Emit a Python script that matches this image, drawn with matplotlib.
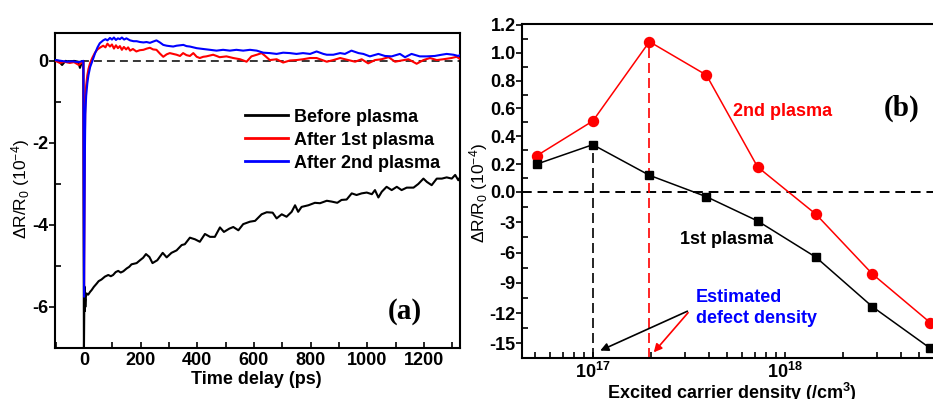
import numpy as np
import matplotlib
matplotlib.use("Agg")
import matplotlib.pyplot as plt
from matplotlib.ticker import FixedLocator, MultipleLocator, LogLocator, NullFormatter

plt.rcParams['font.family'] = ['Liberation Sans', 'DejaVu Sans']
plt.rcParams['font.weight'] = 'bold'
plt.rcParams['mathtext.default'] = 'regular'

# ---------------- Panel (a) data: time traces ----------------
t_before = [-100, -90, -77, -65, -50, -35, -20, -14, -8, -2, 0, 1, 2, 3, 4, 5, 7, 9.4, 15, 22, 27, 35, 45, 52,
            62, 74, 86, 95, 103, 112, 121, 130, 139, 151, 160, 168, 186, 198, 209, 219, 231, 242, 259,
            278, 292, 309, 327, 345, 356, 374, 392, 409, 427, 445, 462, 480, 494, 513, 527, 545, 562,
            586, 604, 627, 645, 666, 680, 698, 715, 733, 745, 756, 768, 792, 815, 833, 857, 874, 894,
            909, 927, 945, 962, 980, 998, 1016, 1027, 1039, 1051, 1068, 1086, 1104, 1121, 1139, 1163,
            1180, 1198, 1210, 1227, 1245, 1263, 1280, 1298, 1310, 1321, 1326]
v_before = [0.02, 0.0, -0.1, 0.0, -0.02, 0.0, -0.02, -0.17, -0.05, 0.0, -7.2, -6.3, -5.5, -6.1, -5.8, -6.0,
            -5.75, -5.67, -5.7, -5.63, -5.59, -5.51, -5.43, -5.37, -5.33, -5.26, -5.22, -5.25, -5.22,
            -5.15, -5.12, -5.16, -5.13, -5.06, -5.02, -4.96, -4.93, -4.86, -4.80, -4.71, -4.78, -4.93,
            -4.86, -4.68, -4.79, -4.68, -4.62, -4.49, -4.47, -4.31, -4.35, -4.41, -4.22, -4.29, -4.29,
            -4.06, -4.17, -4.09, -4.05, -4.13, -3.98, -3.92, -3.90, -3.74, -3.69, -3.70, -3.84, -3.74,
            -3.80, -3.68, -3.52, -3.68, -3.56, -3.52, -3.46, -3.47, -3.41, -3.43, -3.46, -3.39, -3.38,
            -3.23, -3.27, -3.23, -3.21, -3.25, -3.15, -3.33, -3.19, -3.07, -3.15, -3.07, -3.15, -3.09,
            -3.09, -3.00, -2.87, -2.95, -3.03, -2.87, -2.87, -2.84, -2.87, -2.78, -2.91, -2.85]

t_first = [-100, -85, -70, -50, -35, -18, -8, -2, 0.5, 2, 3.5, 5, 8, 12, 16, 22, 30, 39, 48, 56, 68, 76,
           83, 92, 99, 106, 113, 120, 127, 134, 141, 149, 156, 163, 173, 185, 197, 210, 222, 233, 244,
           256, 268, 280, 292, 303, 315, 327, 339, 350, 362, 374, 386, 398, 409, 421, 432, 456, 468,
           479, 503, 527, 551, 574, 591, 610, 627, 638, 656, 680, 703, 727, 750, 773, 798, 821, 833,
           857, 880, 904, 927, 957, 980, 1003, 1027, 1050, 1075, 1098, 1121, 1145, 1174, 1198, 1221,
           1245, 1268, 1297, 1315, 1326]
v_first = [0.0, -0.05, -0.02, -0.05, -0.03, -0.1, -0.04, -0.02, -5.5, -3.5, -1.8, -1.0, -0.6, -0.35, -0.2,
           -0.05, 0.08, 0.2, 0.28, 0.32, 0.37, 0.33, 0.42, 0.35, 0.40, 0.30, 0.38, 0.31, 0.36, 0.27,
           0.34, 0.28, 0.33, 0.25, 0.29, 0.23, 0.26, 0.27, 0.30, 0.32, 0.28, 0.27, 0.18, 0.10, 0.16,
           0.19, 0.17, 0.15, 0.12, 0.19, 0.14, 0.12, 0.19, 0.10, 0.07, 0.10, 0.11, 0.15, 0.12, 0.09,
           0.11, 0.07, 0.04, -0.02, 0.11, 0.15, 0.19, 0.13, 0.02, 0.04, -0.04, 0.01, 0.02, 0.04, 0.07,
           0.07, 0.04, -0.02, 0.02, 0.07, 0.03, -0.02, 0.04, -0.06, 0.02, 0.04, 0.09, -0.02, 0.01,
           0.04, -0.07, 0.02, 0.07, 0.02, 0.04, 0.07, 0.10, 0.05]

t_second = [-100, -80, -60, -40, -20, -2, 0.5, 2, 3.5, 5, 8, 12, 16, 22, 30, 39, 48, 56, 68, 76, 83, 92,
            99, 106, 113, 120, 127, 134, 142, 150, 163, 175, 186, 198, 210, 221, 233, 244, 256, 268,
            280, 292, 303, 315, 327, 339, 351, 362, 374, 398, 421, 445, 468, 491, 515, 538, 562, 586,
            610, 633, 656, 680, 703, 727, 750, 773, 798, 821, 845, 857, 880, 904, 921, 944, 969, 986,
            1009, 1039, 1062, 1086, 1115, 1133, 1156, 1185, 1209, 1238, 1262, 1280, 1304, 1321, 1326]
v_second = [0.02, 0.0, -0.02, -0.01, -0.03, 0.0, -5.75, -4.0, -2.2, -1.3, -0.85, -0.55, -0.35, -0.15, 0.0,
            0.18, 0.33, 0.43, 0.50, 0.53, 0.50, 0.56, 0.52, 0.57, 0.51, 0.55, 0.53, 0.57, 0.52, 0.55,
            0.50, 0.48, 0.48, 0.46, 0.45, 0.46, 0.44, 0.47, 0.50, 0.45, 0.39, 0.37, 0.36, 0.35, 0.37,
            0.38, 0.39, 0.36, 0.35, 0.31, 0.29, 0.27, 0.25, 0.27, 0.25, 0.27, 0.25, 0.27, 0.25, 0.20,
            0.19, 0.17, 0.20, 0.19, 0.17, 0.19, 0.17, 0.23, 0.17, 0.15, 0.15, 0.19, 0.17, 0.25, 0.19,
            0.17, 0.11, 0.17, 0.12, 0.11, 0.17, 0.09, 0.17, 0.11, 0.11, 0.12, 0.15, 0.17, 0.15, 0.12, 0.14]

legend_labels = ["Before plasma", "After 1st plasma", "After 2nd plasma"]
a_xticks = [0, 200, 400, 600, 800, 1000, 1200]
a_yticks = [0, -2, -4, -6]

# ---------------- Panel (b) data: peak signal vs density ----------------
density = [5.1e16, 1.0e17, 1.97e17, 3.9e17, 7.2e17, 1.45e18, 2.85e18, 5.7e18]
first_plasma = [0.20, 0.34, 0.12, -0.47, -2.87, -6.47, -11.37, -15.49]
second_plasma = [0.26, 0.51, 1.08, 0.84, 0.18, -2.21, -8.13, -12.95]
b_yticks = [-15, -12, -9, -6, -3, 0.0, 0.2, 0.4, 0.6, 0.8, 1.0, 1.2]
b_yticklabels = ["-15", "-12", "-9", "-6", "-3", "0.0", "0.2", "0.4", "0.6", "0.8", "1.0", "1.2"]
b_yminor = [-13.5, -10.5, -7.5, -4.5, -1.5, 0.1, 0.3, 0.5, 0.7, 0.9, 1.1]

# ---------------- Figure ----------------
W, H = 933, 399
fig = plt.figure(figsize=(W / 100, H / 100), dpi=100)

axA = fig.add_axes([55 / W, 1 - 348 / H, 405 / W, 315 / H])
axB = fig.add_axes([522 / W, 1 - 358 / H, 423 / W, 334 / H])

FS = 13

# ---- Panel (a)
axA.axhline(0, color='black', lw=1.1, ls=(0, (5.2, 3.3)), zorder=1)
axA.plot(t_before, v_before, color='black', lw=1.5, label=legend_labels[0], zorder=3)
axA.plot(t_first, v_first, color='red', lw=1.5, label=legend_labels[1], zorder=4)
axA.plot(t_second, v_second, color='blue', lw=1.5, label=legend_labels[2], zorder=5)
axA.set_xlim(-102, 1327)
axA.set_ylim(-7.0, 0.68)
axA.set_xticks(a_xticks)
axA.xaxis.set_minor_locator(MultipleLocator(100))
axA.set_yticks(a_yticks)
axA.set_yticklabels([str(v) for v in a_yticks])
axA.yaxis.set_minor_locator(MultipleLocator(1))
axA.tick_params(axis='x', which='both', direction='in', length=4, width=1.2, labelsize=FS, pad=3)
axA.tick_params(axis='y', which='major', direction='out', length=4, width=1.2, labelsize=FS, pad=1)
axA.tick_params(axis='y', which='minor', direction='in', length=4, width=1.2)
for s in axA.spines.values():
    s.set_linewidth(1.5)
axA.set_xlabel("Time delay (ps)", fontsize=FS, fontweight='bold')
axA.xaxis.set_label_coords(0.498, -0.072)
axA.set_ylabel("ΔR/R$_0$ (10$^{-4}$)", fontsize=12.5, fontweight='normal')
axA.yaxis.set_label_coords(-0.057, 0.505)
leg = axA.legend(loc='upper left', bbox_to_anchor=(0.469, 0.760), frameon=False, fontsize=FS,
                 borderpad=0, borderaxespad=0, handlelength=2.4, handletextpad=0.3, labelspacing=0.33)
for line in leg.get_lines():
    line.set_linewidth(2)
axA.text(1133, -6.1, "(a)", fontsize=21, fontweight='bold', family='Liberation Serif',
         ha='center', va='center')

# ---- Panel (b): piecewise y-scale (expanded positive part)
k_up = 27.83 / 0.2
k_dn = 30.27 / 3.0


def fwd(v):
    v = np.asarray(v, dtype=float)
    return np.where(v >= 0, v * k_up, v * k_dn)


def inv(p):
    p = np.asarray(p, dtype=float)
    return np.where(p >= 0, p / k_up, p / k_dn)


axB.set_xscale('log')
axB.set_yscale('function', functions=(fwd, inv))
ymin_b, ymax_b = -16.45, 1.207
axB.set_xlim(4.28e16, 6.8e18)
axB.set_ylim(ymin_b, ymax_b)

axB.axhline(0, color='black', lw=1.4, ls=(0, (5, 3)), zorder=1)
axB.vlines(density[1], ymin_b, first_plasma[1], colors='black', lw=1.2, linestyles=[(0, (6, 3))], zorder=1)
axB.vlines(density[2], ymin_b, second_plasma[2], colors='red', lw=1.2, linestyles=[(0, (6, 3))], zorder=1)
axB.plot(density, second_plasma, color='red', lw=1.1, marker='o', ms=7.2, zorder=3, clip_on=False)
axB.plot(density, first_plasma, color='black', lw=1.1, marker='s', ms=5.8, zorder=4, clip_on=False)

axB.set_yticks(b_yticks)
axB.set_yticklabels(b_yticklabels)
axB.yaxis.set_minor_locator(FixedLocator(b_yminor))
axB.yaxis.set_minor_formatter(NullFormatter())
axB.xaxis.set_major_locator(LogLocator(base=10, numticks=10))
axB.xaxis.set_minor_locator(LogLocator(base=10, subs=np.arange(2, 10), numticks=20))
axB.xaxis.set_minor_formatter(NullFormatter())
axB.tick_params(axis='x', which='both', direction='in', length=4, width=1.2, labelsize=FS, pad=3)
axB.tick_params(axis='y', which='major', direction='out', length=4, width=1.2, labelsize=FS, pad=0.5)
axB.tick_params(axis='y', which='minor', direction='in', length=4, width=1.2)
for s in axB.spines.values():
    s.set_linewidth(1.5)
axB.set_xlabel("Excited carrier density (/cm$^3$)", fontsize=FS, fontweight='bold')
axB.xaxis.set_label_coords(0.496, -0.07)
axB.set_ylabel("ΔR/R$_0$ (10$^{-4}$)", fontsize=12.5, fontweight='normal')
axB.yaxis.set_label_coords(-0.0757, 0.495)

axB.text(5.37e17, 0.58, "2nd plasma", color='red', fontsize=FS, fontweight='bold', ha='left', va='center')
axB.text(2.84e17, -4.7, "1st plasma", color='black', fontsize=FS, fontweight='bold', ha='left', va='center')
axB.text(4.06e18, 0.603, "(b)", fontsize=21, fontweight='bold', family='Liberation Serif',
         ha='center', va='center')
axB.text(3.45e17, -11.5, "Estimated\ndefect density", color='blue', fontsize=FS, fontweight='bold',
         ha='left', va='center', linespacing=1.35)
axB.annotate("", xy=(1.06e17, -15.83), xytext=(3.2e17, -11.7),
             arrowprops=dict(arrowstyle='-|>', color='black', lw=1.2, mutation_scale=12))
axB.annotate("", xy=(2.03e17, -16.1), xytext=(3.2e17, -11.75),
             arrowprops=dict(arrowstyle='-|>', color='red', lw=1.2, mutation_scale=12))

fig.savefig("out.png", dpi=100)
